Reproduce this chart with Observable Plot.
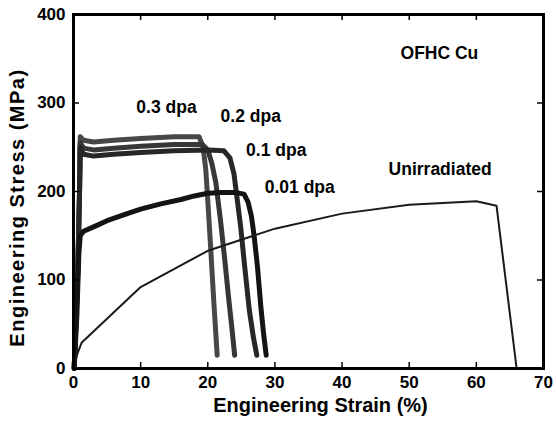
<!DOCTYPE html>
<html><head><meta charset="utf-8">
<script src="https://cdn.jsdelivr.net/npm/d3@7"></script>
<script src="https://cdn.jsdelivr.net/npm/@observablehq/plot@0.6"></script>
<style>body{margin:0;background:#fff;}</style>
</head><body><div id="chart"></div>
<script>
// ---- data ----
const strain03 = [0.1, 0.6, 0.9, 1.0, 1.5, 3, 6, 10, 15, 18.7, 19.3, 19.7, 20.0, 20.4, 20.9, 21.4];
const stress03 = [0, 100, 200, 262, 258, 256, 258, 260, 262, 262, 250, 225, 190, 140, 75, 15];

const strain02 = [0.1, 0.6, 0.9, 1.0, 1.5, 3, 6, 10, 15, 19.2, 20.0, 20.6, 21.2, 21.9, 22.5, 23.1, 23.6, 24.0];
const stress02 = [0, 100, 200, 255, 249, 247, 249, 251, 253, 253, 247, 232, 210, 167, 125, 80, 45, 15];

const strain01 = [0.1, 0.6, 0.9, 1.0, 1.5, 3, 6, 10, 15, 20, 22.4, 23.3, 23.9, 24.4, 24.9, 25.5, 26.2, 26.8, 27.3];
const stress01 = [0, 100, 200, 250, 242, 240, 242, 244, 246, 247, 246, 238, 220, 190, 160, 115, 65, 35, 15];

const strain001 = [0.1, 0.5, 0.8, 1.0, 1.5, 3, 5, 8, 10, 13, 16, 18, 20, 22, 24, 25.4, 26, 26.5, 26.9, 27.4, 27.9, 28.3, 28.7];
const stress001 = [0, 60, 130, 150, 155, 160, 167, 175, 180, 186, 191, 195, 198, 199, 199, 197, 188, 172, 150, 115, 70, 40, 15];

const strainUn = [0, 0.5, 1.2, 10, 20, 30, 40, 50, 60, 63, 66];
const stressUn = [0, 15, 29, 92, 133, 158, 175, 185, 189, 184, 0];

const xTicks = [0, 10, 20, 30, 40, 50, 60, 70];
const yTicks = [0, 100, 200, 300, 400];

const labelText = ["OFHC Cu", "0.3 dpa", "0.2 dpa", "0.1 dpa", "0.01 dpa", "Unirradiated"];
const labelX = [54.5, 13.85, 26.4, 30.2, 33.7, 54.6];
const labelY = [355.6, 294.9, 284.7, 246.3, 204.5, 224.9];

const xTitle = "Engineering Strain (%)";
const yTitle = "Engineering Stress (MPa)";

// ---- build tables ----
const toRows = (xs, ys) => xs.map((x, i) => ({strain: x, stress: ys[i]}));
const d03 = toRows(strain03, stress03);
const d02 = toRows(strain02, stress02);
const d01 = toRows(strain01, stress01);
const d001 = toRows(strain001, stress001);
const dUn = toRows(strainUn, stressUn);
const labels = labelText.map((t, i) => ({text: t, x: labelX[i], y: labelY[i]}));

const W = 556, H = 428, mL = 73, mR = 13, mT = 14, mB = 60;
const innerW = W - mL - mR, innerH = H - mT - mB;
const font = "Liberation Sans, Arial, Helvetica, sans-serif";

const chart = Plot.plot({
  width: W, height: H,
  marginLeft: mL, marginRight: mR, marginTop: mT, marginBottom: mB,
  x: {domain: [0, 70]},
  y: {domain: [0, 400]},
  style: {fontFamily: font, fontWeight: "bold", background: "white", color: "black", overflow: "visible"},
  marks: [
    Plot.line(d03, {x: "strain", y: "stress", stroke: "#474747", strokeWidth: 5}),
    Plot.line(d02, {x: "strain", y: "stress", stroke: "#373737", strokeWidth: 5}),
    Plot.line(d01, {x: "strain", y: "stress", stroke: "#272727", strokeWidth: 5}),
    Plot.line(d001, {x: "strain", y: "stress", stroke: "#141414", strokeWidth: 5}),
    Plot.line(dUn, {x: "strain", y: "stress", stroke: "#1a1a1a", strokeWidth: 2}),
    Plot.frame({stroke: "black", strokeWidth: 3}),
    Plot.tickX(xTicks, {x: d => d, insetTop: innerH - 6, stroke: "black", strokeWidth: 1.5}),
    Plot.tickX(xTicks, {x: d => d, insetBottom: innerH - 6, stroke: "black", strokeWidth: 1.5}),
    Plot.tickY(yTicks, {y: d => d, insetRight: innerW - 6, stroke: "black", strokeWidth: 1.5}),
    Plot.tickY(yTicks, {y: d => d, insetLeft: innerW - 6, stroke: "black", strokeWidth: 1.5}),
    Plot.axisX({ticks: xTicks, tickSize: 0, tickPadding: 7, label: null, fontSize: 17, fontWeight: "bold", fontFamily: font}),
    Plot.axisY({ticks: yTicks, tickSize: 0, tickPadding: 8, label: null, fontSize: 17, fontWeight: "bold", fontFamily: font}),
    Plot.text([xTitle], {text: d => d, frameAnchor: "bottom", textAnchor: "middle", dx: 12, dy: 43, fontSize: 20, fontWeight: "bold", fontFamily: font}),
    Plot.text([yTitle], {text: d => d, frameAnchor: "left", textAnchor: "middle", lineAnchor: "middle", rotate: -90, dx: -55.5, dy: 16, fontSize: 20, fontWeight: "bold", fontFamily: font}),
    Plot.text(labels, {x: "x", y: "y", text: "text", fontSize: 17.5, fontWeight: "bold", fontFamily: font})
  ]
});
document.getElementById("chart").appendChild(chart);
d3.select(chart).selectAll("text").filter(function() { return this.textContent === yTitle; })
  .style("letter-spacing", "1.5px");
</script>
</body></html>
